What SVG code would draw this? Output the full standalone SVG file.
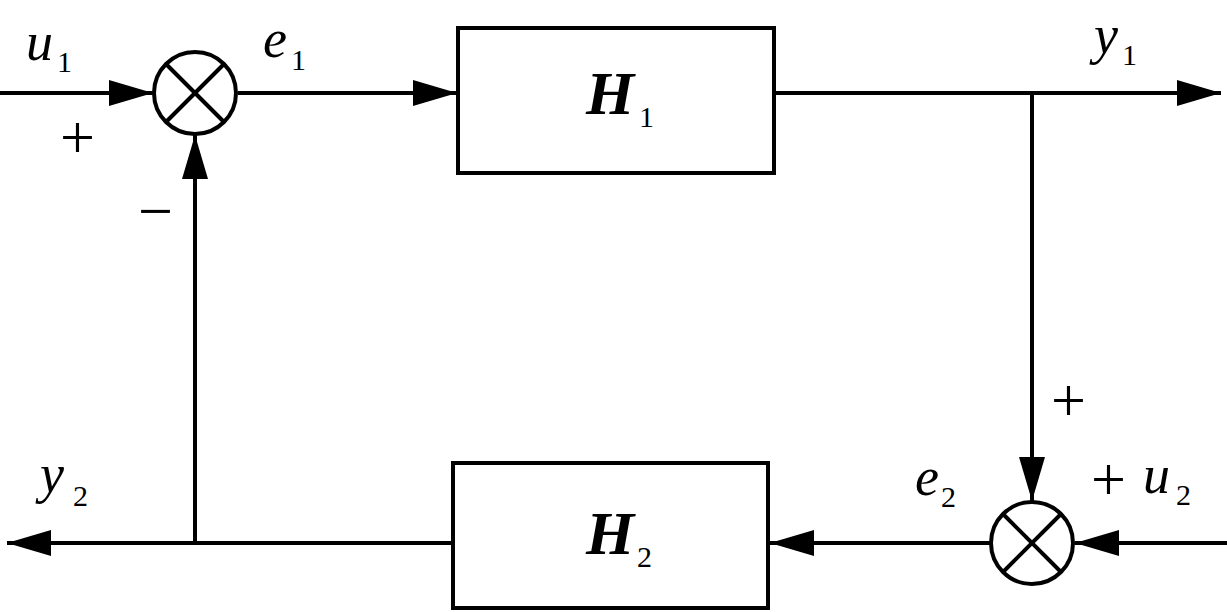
<svg xmlns="http://www.w3.org/2000/svg" width="1227" height="612" viewBox="0 0 1227 612">
<defs>
<marker id="ar" markerUnits="userSpaceOnUse" markerWidth="44" markerHeight="26" refX="44" refY="13" orient="auto">
<path d="M0,0 L44,13 L0,26 Z" fill="#000"/>
</marker>
</defs>
<rect width="1227" height="612" fill="#fff"/>
<g id="connectors" stroke="#000" stroke-width="4" fill="none">
<line x1="0" y1="93" x2="153" y2="93" marker-end="url(#ar)"/>
<line x1="238" y1="93" x2="457" y2="93" marker-end="url(#ar)"/>
<line x1="775" y1="93" x2="1221" y2="93" marker-end="url(#ar)"/>
<line x1="1032" y1="93" x2="1032" y2="501" marker-end="url(#ar)"/>
<line x1="1227" y1="543" x2="1075" y2="543" marker-end="url(#ar)"/>
<line x1="990" y1="543" x2="770" y2="543" marker-end="url(#ar)"/>
<line x1="452" y1="543" x2="7" y2="543" marker-end="url(#ar)"/>
<line x1="195" y1="545" x2="195" y2="135" marker-end="url(#ar)"/>
</g>
<g id="sum1" stroke="#000" stroke-width="4" fill="#fff">
<circle cx="195" cy="93" r="41"/>
<line x1="166" y1="64" x2="224" y2="122"/>
<line x1="224" y1="64" x2="166" y2="122"/>
</g>
<g id="sum2" stroke="#000" stroke-width="4" fill="#fff">
<circle cx="1032" cy="543" r="41"/>
<line x1="1003" y1="514" x2="1061" y2="572"/>
<line x1="1061" y1="514" x2="1003" y2="572"/>
</g>
<g id="H1">
<rect x="458" y="28" width="316" height="145" stroke="#000" stroke-width="4" fill="#fff"/>
<text x="586" y="114" style="font-family:'Liberation Serif',serif;font-style:italic;font-weight:bold;font-size:62px">H</text>
<text x="639" y="127" style="font-family:'Liberation Serif',serif;font-size:30px">1</text>
</g>
<g id="H2">
<rect x="453" y="463" width="315" height="145" stroke="#000" stroke-width="4" fill="#fff"/>
<text x="586" y="554" style="font-family:'Liberation Serif',serif;font-style:italic;font-weight:bold;font-size:62px">H</text>
<text x="637" y="567" style="font-family:'Liberation Serif',serif;font-size:30px">2</text>
</g>
<g id="labels">
<text x="26" y="60" style="font-family:'Liberation Serif',serif;font-style:italic;font-size:54px">u</text>
<text x="263" y="57" style="font-family:'Liberation Serif',serif;font-style:italic;font-size:54px">e</text>
<text x="1094" y="53" style="font-family:'Liberation Serif',serif;font-style:italic;font-size:54px">y</text>
<text x="40" y="492" style="font-family:'Liberation Serif',serif;font-style:italic;font-size:54px">y</text>
<text x="915" y="495" style="font-family:'Liberation Serif',serif;font-style:italic;font-size:54px">e</text>
<text x="1143" y="493" style="font-family:'Liberation Serif',serif;font-style:italic;font-size:54px">u</text>
<text x="57" y="72" style="font-family:'Liberation Serif',serif;font-size:30px">1</text>
<text x="291" y="70" style="font-family:'Liberation Serif',serif;font-size:30px">1</text>
<text x="1122" y="65" style="font-family:'Liberation Serif',serif;font-size:30px">1</text>
<text x="73" y="506" style="font-family:'Liberation Serif',serif;font-size:30px">2</text>
<text x="941" y="507" style="font-family:'Liberation Serif',serif;font-size:30px">2</text>
<text x="1176" y="505" style="font-family:'Liberation Serif',serif;font-size:30px">2</text>
<text x="60" y="158" style="font-family:'Liberation Serif',serif;font-size:62px">+</text>
<text x="138" y="232" style="font-family:'Liberation Serif',serif;font-size:62px">−</text>
<text x="1051" y="421" style="font-family:'Liberation Serif',serif;font-size:62px">+</text>
<text x="1091" y="500" style="font-family:'Liberation Serif',serif;font-size:62px">+</text>
</g>
</svg>
